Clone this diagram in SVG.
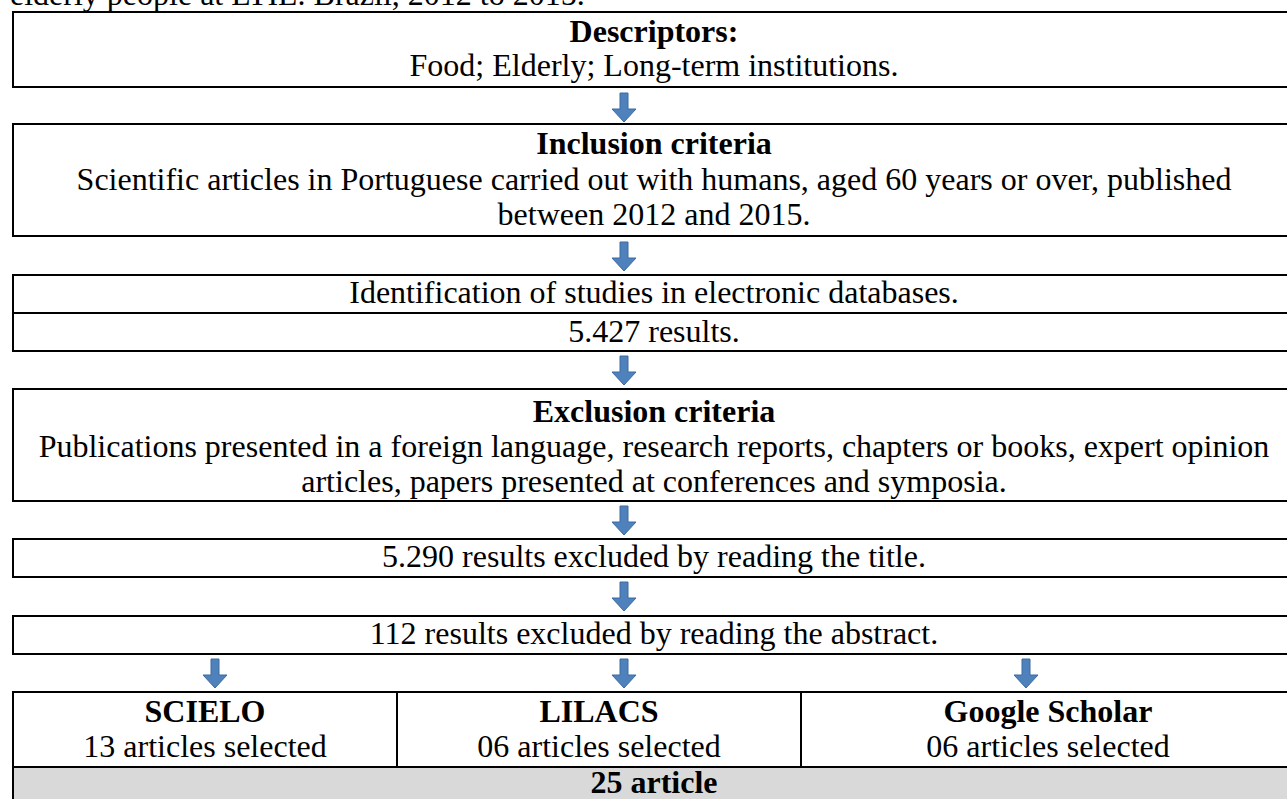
<svg xmlns="http://www.w3.org/2000/svg" xmlns:xlink="http://www.w3.org/1999/xlink" width="1287" height="799" viewBox="0 0 1287 799">
<style>
text{font-family:"Liberation Serif","Times New Roman",serif;font-size:32px;fill:#000;}
.c{text-anchor:middle;}
.b{font-weight:bold;}
.box{fill:#fff;stroke:#000;stroke-width:2;}
.gray{fill:#D9D9D9;stroke:#000;stroke-width:2;}
.ln{stroke:#000;stroke-width:2;fill:none;}
.arr{fill:#4F81BD;stroke:#3A6B9E;stroke-width:1;}
</style>
<defs>
<path id="arrow" class="arr" d="M-4,0 H4 V16 H12 L0,29 L-12,16 H-4 Z"/>
</defs>
<text x="10" y="5">elderly people at LTIL. Brazil, 2012 to 2015.</text>
<g id="descriptors">
<rect class="box" x="13" y="12" width="1283" height="75"/>
<text class="c b" x="654" y="42">Descriptors:</text>
<text class="c" x="654" y="76">Food; Elderly; Long-term institutions.</text>
</g>
<g id="inclusion">
<rect class="box" x="13" y="124" width="1283" height="112"/>
<text class="c b" x="654" y="154">Inclusion criteria</text>
<text class="c" x="654" y="190">Scientific articles in Portuguese carried out with humans, aged 60 years or over, published</text>
<text class="c" x="654" y="225">between 2012 and 2015.</text>
</g>
<g id="identification">
<rect class="box" x="13" y="275" width="1283" height="76"/>
<line class="ln" x1="13" y1="313" x2="1296" y2="313"/>
<text class="c" x="654" y="303">Identification of studies in electronic databases.</text>
<text class="c" x="654" y="342">5.427 results.</text>
</g>
<g id="exclusion">
<rect class="box" x="13" y="389" width="1283" height="112"/>
<text class="c b" x="654" y="422">Exclusion criteria</text>
<text class="c" x="654" y="457">Publications presented in a foreign language, research reports, chapters or books, expert opinion</text>
<text class="c" x="654" y="492">articles, papers presented at conferences and symposia.</text>
</g>
<g id="title-excluded">
<rect class="box" x="13" y="539" width="1283" height="38"/>
<text class="c" x="654" y="567">5.290 results excluded by reading the title.</text>
</g>
<g id="abstract-excluded">
<rect class="box" x="13" y="616" width="1283" height="38"/>
<text class="c" x="654" y="644">112 results excluded by reading the abstract.</text>
</g>
<g id="scielo">
<rect class="box" x="13" y="692" width="384" height="75"/>
<text class="c b" x="205" y="722">SCIELO</text>
<text class="c" x="205" y="757">13 articles selected</text>
</g>
<g id="lilacs">
<rect class="box" x="397" y="692" width="404" height="75"/>
<text class="c b" x="599" y="722">LILACS</text>
<text class="c" x="599" y="757">06 articles selected</text>
</g>
<g id="google">
<rect class="box" x="801" y="692" width="495" height="75"/>
<text class="c b" x="1048" y="722">Google Scholar</text>
<text class="c" x="1048" y="757">06 articles selected</text>
</g>
<g id="total">
<rect class="gray" x="13" y="767" width="1283" height="60"/>
<text class="c b" x="654" y="793">25 article</text>
</g>
<g id="connectors">
<use xlink:href="#arrow" x="624" y="93"/>
<use xlink:href="#arrow" x="624" y="242"/>
<use xlink:href="#arrow" x="624" y="356"/>
<use xlink:href="#arrow" x="624" y="506"/>
<use xlink:href="#arrow" x="624" y="582"/>
<use xlink:href="#arrow" x="215" y="659"/>
<use xlink:href="#arrow" x="624" y="659"/>
<use xlink:href="#arrow" x="1026" y="659"/>
</g>
</svg>
